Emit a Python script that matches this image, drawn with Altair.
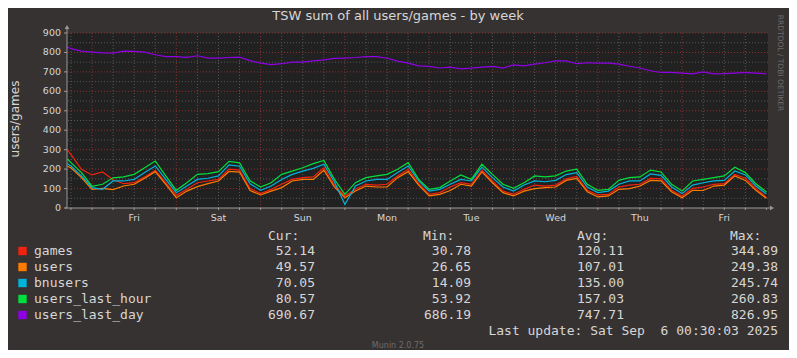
import altair as alt
import pandas as pd

# ---------------- data ----------------
# hours relative to Fri 2025-08-29 00:00
HOURS = [-7] + list(range(-6, 193, 3))

games = [298, 276, 199, 170, 185, 145, 125, 130, 160, 194, 130, 65, 96, 130, 139, 147, 200, 195,
         100, 74, 96, 122, 147, 156, 160, 207, 118, 62, 96, 122, 118, 122, 165, 199,
         125, 70, 79, 108, 130, 122, 195, 139, 87, 70, 96, 118, 113, 118, 150, 162,
         91, 67, 70, 108, 118, 122, 152, 150, 91, 62, 101, 108, 122, 125, 172, 153, 101, 54]
users = [215, 207, 156, 96, 101, 95, 113, 122, 153, 187, 122, 53, 87, 110, 125, 139, 188, 185,
         90, 67, 87, 105, 139, 147, 147, 194, 108, 53, 87, 113, 108, 108, 156, 187,
         118, 62, 70, 90, 122, 113, 186, 130, 79, 62, 87, 100, 105, 108, 142, 152,
         84, 57, 62, 96, 100, 113, 142, 140, 84, 53, 91, 90, 113, 118, 165, 142, 91, 50]
bnusers = [228, 216, 165, 105, 96, 139, 139, 147, 182, 216, 147, 79, 113, 147, 153, 165, 222, 215,
           125, 91, 113, 147, 173, 190, 204, 225, 135, 18, 113, 139, 147, 147, 182, 216,
           139, 87, 96, 122, 147, 139, 210, 156, 108, 87, 118, 139, 135, 142, 172, 182,
           108, 79, 87, 122, 139, 139, 175, 168, 108, 74, 118, 130, 139, 142, 190, 170, 113, 72]
users_last_hour = [252, 233, 182, 112, 122, 155, 160, 173, 207, 242, 165, 91, 130, 173, 177, 187, 240, 232,
                   140, 108, 130, 173, 190, 207, 228, 245, 148, 70, 130, 156, 165, 173, 199, 233,
                   147, 96, 105, 139, 170, 147, 225, 173, 122, 101, 130, 165, 160, 165, 190, 200,
                   122, 91, 96, 142, 156, 160, 195, 185, 122, 87, 139, 147, 156, 165, 210, 182, 125, 82]
users_last_day = [828, 820, 807, 802, 798, 797, 807, 805, 802, 788, 779, 779, 775, 783, 771, 771, 774, 776,
                  758, 745, 737, 742, 750, 750, 757, 762, 769, 771, 774, 779, 778, 770, 755, 745,
                  731, 728, 720, 724, 716, 719, 724, 728, 719, 736, 731, 740, 747, 757, 757, 742,
                  747, 745, 745, 740, 729, 720, 706, 697, 697, 694, 690, 700, 690, 691, 694, 697, 694, 690]

SERIES = ["games", "users", "bnusers", "users_last_hour", "users_last_day"]
VALUES = [games, users, bnusers, users_last_hour, users_last_day]
COLORS = ["#f3220f", "#ff7b00", "#00b4dc", "#00e03c", "#9000e6"]
CUR = ["52.14", "49.57", "70.05", "80.57", "690.67"]
MIN = ["30.78", "26.65", "14.09", "53.92", "686.19"]
AVG = ["120.11", "107.01", "135.00", "157.03", "747.71"]
MAX = ["344.89", "249.38", "245.74", "260.83", "826.95"]

DAY_NAMES = ["Fri", "Sat", "Sun", "Mon", "Tue", "Wed", "Thu", "Fri"]
DAY_NOONS = [12, 36, 60, 84, 108, 132, 156, 180]
Y_MAJOR = list(range(100, 901, 100))
Y_MINOR = list(range(50, 900, 100))
Y_TICKS = list(range(0, 901, 100))
MIDNIGHTS = list(range(0, 169, 24))
SIX_HOURS = [h for h in range(-6, 193, 6) if h % 24 != 0]
X_TICKS = list(range(-6, 193, 6))

TITLE = "TSW sum of all users/games - by week"
Y_TITLE = "users/games"
LAST_UPDATE = "Last update: Sat Sep\u00a0 6 00:30:03 2025"
FOOTER = "Munin 2.0.75"
SIDE = "RRDTOOL / TOBI OETIKER"

# ---------------- styling ----------------
BG = "#363231"
PLOT_BG = "#212121"
TEXT = "#d6d6d6"
AXIS = "#9a9a9a"
GRID_GREY = "#575757"
GRID_RED = "#8e2f2f"
MONO = "DejaVu Sans Mono"
SANS = "DejaVu Sans"

W, H = 701, 175
x_scale = alt.Scale(domain=[-7.12, 192.45], nice=False, zero=False)
y_scale = alt.Scale(domain=[0, 900], nice=False, zero=True)
X = lambda f: alt.X(f, scale=x_scale, axis=None)
Y = lambda f: alt.Y(f, scale=y_scale, axis=None)

layers = []
# grid
layers.append(alt.Chart(pd.DataFrame({"h": SIX_HOURS})).mark_rule(
    color=GRID_GREY, strokeDash=[1, 2], strokeWidth=1).encode(x=X("h:Q")))
layers.append(alt.Chart(pd.DataFrame({"v": Y_MINOR})).mark_rule(
    color=GRID_GREY, strokeDash=[1, 2], strokeWidth=1).encode(y=Y("v:Q")))
layers.append(alt.Chart(pd.DataFrame({"h": MIDNIGHTS})).mark_rule(
    color=GRID_RED, strokeDash=[1, 2], strokeWidth=1).encode(x=X("h:Q")))
layers.append(alt.Chart(pd.DataFrame({"v": Y_MAJOR})).mark_rule(
    color=GRID_RED, strokeDash=[1, 2], strokeWidth=1).encode(y=Y("v:Q")))

# series lines
for name, vals, col in zip(SERIES, VALUES, COLORS):
    df = pd.DataFrame({"h": HOURS, "v": vals})
    layers.append(alt.Chart(df).mark_line(color=col, strokeWidth=1.2, clip=True).encode(
        x=X("h:Q"), y=Y("v:Q")))

# axis lines with arrows
one = pd.DataFrame({"a": [0]})
layers.append(alt.Chart(one).mark_rule(color=AXIS, strokeWidth=1).encode(
    x=alt.value(0), y=alt.value(-4), y2=alt.value(H)))
layers.append(alt.Chart(one).mark_rule(color=AXIS, strokeWidth=1).encode(
    x=alt.value(-2), x2=alt.value(W + 2), y=alt.value(H)))
layers.append(alt.Chart(one).mark_point(
    shape="triangle-up", filled=True, color=AXIS, size=22, opacity=1).encode(
    x=alt.value(0), y=alt.value(-6)))
layers.append(alt.Chart(one).mark_point(
    shape="triangle-right", filled=True, color=AXIS, size=22, opacity=1).encode(
    x=alt.value(W + 4), y=alt.value(H)))

# y ticks and labels (through the y scale)
ydf = pd.DataFrame({"v": Y_TICKS})
layers.append(alt.Chart(ydf).mark_rule(color=AXIS, strokeWidth=1).encode(
    y=Y("v:Q"), x=alt.value(-3), x2=alt.value(0)))
layers.append(alt.Chart(ydf).mark_text(
    font=SANS, fontSize=9.5, color=TEXT, align="right", baseline="middle").encode(
    y=Y("v:Q"), x=alt.value(-6), text=alt.Text("v:Q", format="d")))

# x ticks and day labels (through the x scale)
layers.append(alt.Chart(pd.DataFrame({"h": X_TICKS})).mark_rule(color=AXIS, strokeWidth=1).encode(
    x=X("h:Q"), y=alt.value(H), y2=alt.value(H + 2)))
layers.append(alt.Chart(pd.DataFrame({"h": DAY_NOONS, "d": DAY_NAMES})).mark_text(
    font=SANS, fontSize=9.5, color=TEXT, align="center", baseline="middle").encode(
    x=X("h:Q"), y=alt.value(H + 10), text="d:N"))


def txt(s, x, y, font=SANS, size=10, color=TEXT, align="left", angle=0):
    return alt.Chart(pd.DataFrame({"t": [s]})).mark_text(
        font=font, fontSize=size, color=color, align=align, baseline="middle", angle=angle).encode(
        text="t:N", x=alt.value(x), y=alt.value(y))


layers.append(txt(TITLE, 331, -17, size=13, align="center"))
layers.append(txt(Y_TITLE, -52, 86, size=12, align="center", angle=270))
layers.append(txt(SIDE, 713, 30, size=7.5, color="#6f6b6a", align="center", angle=90))
layers.append(txt(FOOTER, 331, 313, size=8, color="#6f6b6a", align="center"))

# legend table
HEAD_Y = 203
ROW_Y0 = 218
ROW_DY = 16
layers.append(txt("Cur:", 201, HEAD_Y, font=MONO, size=13))
layers.append(txt("Min:", 356, HEAD_Y, font=MONO, size=13))
layers.append(txt("Avg:", 510, HEAD_Y, font=MONO, size=13))
layers.append(txt("Max:", 663, HEAD_Y, font=MONO, size=13))
for i, (name, col) in enumerate(zip(SERIES, COLORS)):
    yy = ROW_Y0 + i * ROW_DY
    layers.append(alt.Chart(pd.DataFrame({"t": [name]})).mark_square(
        color=col, filled=True, size=70, opacity=1).encode(x=alt.value(-44.5), y=alt.value(yy)))
    layers.append(txt(name, -33, yy, font=MONO, size=13))
    layers.append(txt(CUR[i], 248, yy, font=MONO, size=13, align="right"))
    layers.append(txt(MIN[i], 404, yy, font=MONO, size=13, align="right"))
    layers.append(txt(AVG[i], 557, yy, font=MONO, size=13, align="right"))
    layers.append(txt(MAX[i], 711, yy, font=MONO, size=13, align="right"))
layers.append(txt(LAST_UPDATE, 711, ROW_Y0 + 5 * ROW_DY, font=MONO, size=13, align="right"))

chart = alt.layer(*layers).properties(
    width=W, height=H, background=BG,
    padding={"left": 59, "top": 25, "right": 21, "bottom": 142},
    autosize=alt.AutoSizeParams(type="none"),
).configure_view(fill=PLOT_BG, stroke=None)

chart.save("out.html", embed_options={"renderer": "svg", "actions": False})
